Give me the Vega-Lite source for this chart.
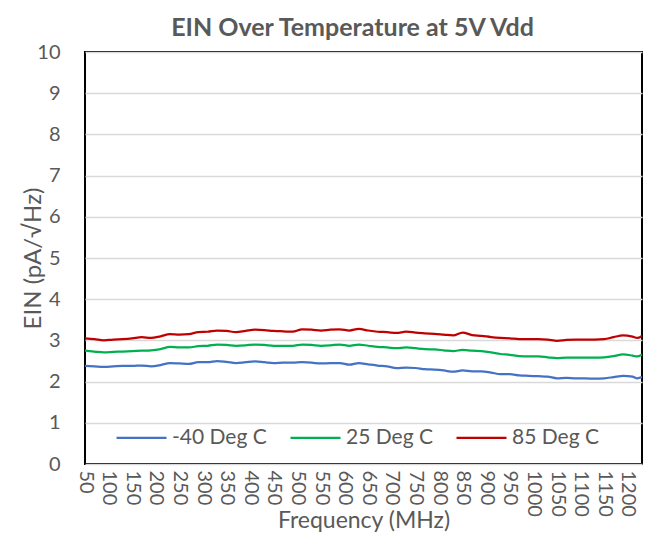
{
  "$schema": "https://vega.github.io/schema/vega-lite/v6.json",
  "width": 557,
  "height": 412,
  "autosize": {"type": "none"},
  "padding": {"left": 85, "top": 52, "right": 26, "bottom": 76},
  "background": "white",
  "title": {
    "text": "EIN Over Temperature at 5V Vdd",
    "font": "Lato",
    "fontSize": 25,
    "fontWeight": "bold",
    "color": "#595959",
    "anchor": "middle",
    "frame": "group",
    "dx": -11,
    "offset": 1
  },
  "data": {
    "values": [
      {"f": 50, "-40 Deg C": 2.38, "25 Deg C": 2.75, "85 Deg C": 3.05},
      {"f": 70, "-40 Deg C": 2.37, "25 Deg C": 2.73, "85 Deg C": 3.03},
      {"f": 90, "-40 Deg C": 2.36, "25 Deg C": 2.71, "85 Deg C": 3.00},
      {"f": 110, "-40 Deg C": 2.37, "25 Deg C": 2.72, "85 Deg C": 3.02},
      {"f": 130, "-40 Deg C": 2.38, "25 Deg C": 2.73, "85 Deg C": 3.03},
      {"f": 150, "-40 Deg C": 2.38, "25 Deg C": 2.74, "85 Deg C": 3.05},
      {"f": 170, "-40 Deg C": 2.39, "25 Deg C": 2.75, "85 Deg C": 3.08},
      {"f": 190, "-40 Deg C": 2.37, "25 Deg C": 2.76, "85 Deg C": 3.06},
      {"f": 210, "-40 Deg C": 2.40, "25 Deg C": 2.79, "85 Deg C": 3.10},
      {"f": 230, "-40 Deg C": 2.45, "25 Deg C": 2.84, "85 Deg C": 3.15},
      {"f": 250, "-40 Deg C": 2.44, "25 Deg C": 2.83, "85 Deg C": 3.14},
      {"f": 270, "-40 Deg C": 2.43, "25 Deg C": 2.83, "85 Deg C": 3.15},
      {"f": 290, "-40 Deg C": 2.47, "25 Deg C": 2.86, "85 Deg C": 3.20},
      {"f": 310, "-40 Deg C": 2.47, "25 Deg C": 2.87, "85 Deg C": 3.21},
      {"f": 330, "-40 Deg C": 2.50, "25 Deg C": 2.90, "85 Deg C": 3.24},
      {"f": 350, "-40 Deg C": 2.48, "25 Deg C": 2.89, "85 Deg C": 3.23},
      {"f": 370, "-40 Deg C": 2.45, "25 Deg C": 2.87, "85 Deg C": 3.20},
      {"f": 390, "-40 Deg C": 2.47, "25 Deg C": 2.88, "85 Deg C": 3.23},
      {"f": 410, "-40 Deg C": 2.49, "25 Deg C": 2.90, "85 Deg C": 3.26},
      {"f": 430, "-40 Deg C": 2.47, "25 Deg C": 2.89, "85 Deg C": 3.25},
      {"f": 450, "-40 Deg C": 2.45, "25 Deg C": 2.87, "85 Deg C": 3.23},
      {"f": 470, "-40 Deg C": 2.46, "25 Deg C": 2.87, "85 Deg C": 3.22},
      {"f": 490, "-40 Deg C": 2.46, "25 Deg C": 2.87, "85 Deg C": 3.21},
      {"f": 510, "-40 Deg C": 2.47, "25 Deg C": 2.90, "85 Deg C": 3.27},
      {"f": 530, "-40 Deg C": 2.46, "25 Deg C": 2.89, "85 Deg C": 3.26},
      {"f": 550, "-40 Deg C": 2.44, "25 Deg C": 2.87, "85 Deg C": 3.24},
      {"f": 570, "-40 Deg C": 2.45, "25 Deg C": 2.88, "85 Deg C": 3.26},
      {"f": 590, "-40 Deg C": 2.45, "25 Deg C": 2.90, "85 Deg C": 3.27},
      {"f": 610, "-40 Deg C": 2.41, "25 Deg C": 2.87, "85 Deg C": 3.24},
      {"f": 630, "-40 Deg C": 2.45, "25 Deg C": 2.90, "85 Deg C": 3.28},
      {"f": 650, "-40 Deg C": 2.42, "25 Deg C": 2.87, "85 Deg C": 3.24},
      {"f": 670, "-40 Deg C": 2.39, "25 Deg C": 2.84, "85 Deg C": 3.21},
      {"f": 690, "-40 Deg C": 2.37, "25 Deg C": 2.83, "85 Deg C": 3.20},
      {"f": 710, "-40 Deg C": 2.33, "25 Deg C": 2.81, "85 Deg C": 3.18},
      {"f": 730, "-40 Deg C": 2.34, "25 Deg C": 2.83, "85 Deg C": 3.21},
      {"f": 750, "-40 Deg C": 2.33, "25 Deg C": 2.81, "85 Deg C": 3.19},
      {"f": 770, "-40 Deg C": 2.30, "25 Deg C": 2.79, "85 Deg C": 3.17},
      {"f": 790, "-40 Deg C": 2.29, "25 Deg C": 2.78, "85 Deg C": 3.16},
      {"f": 810, "-40 Deg C": 2.27, "25 Deg C": 2.76, "85 Deg C": 3.14},
      {"f": 830, "-40 Deg C": 2.24, "25 Deg C": 2.74, "85 Deg C": 3.12},
      {"f": 850, "-40 Deg C": 2.27, "25 Deg C": 2.77, "85 Deg C": 3.19},
      {"f": 870, "-40 Deg C": 2.25, "25 Deg C": 2.75, "85 Deg C": 3.13},
      {"f": 890, "-40 Deg C": 2.25, "25 Deg C": 2.74, "85 Deg C": 3.11},
      {"f": 910, "-40 Deg C": 2.22, "25 Deg C": 2.71, "85 Deg C": 3.08},
      {"f": 930, "-40 Deg C": 2.18, "25 Deg C": 2.67, "85 Deg C": 3.06},
      {"f": 950, "-40 Deg C": 2.18, "25 Deg C": 2.65, "85 Deg C": 3.05},
      {"f": 970, "-40 Deg C": 2.15, "25 Deg C": 2.62, "85 Deg C": 3.03},
      {"f": 990, "-40 Deg C": 2.14, "25 Deg C": 2.61, "85 Deg C": 3.03},
      {"f": 1010, "-40 Deg C": 2.13, "25 Deg C": 2.61, "85 Deg C": 3.03},
      {"f": 1030, "-40 Deg C": 2.12, "25 Deg C": 2.59, "85 Deg C": 3.02},
      {"f": 1050, "-40 Deg C": 2.08, "25 Deg C": 2.57, "85 Deg C": 2.99},
      {"f": 1070, "-40 Deg C": 2.09, "25 Deg C": 2.58, "85 Deg C": 3.01},
      {"f": 1090, "-40 Deg C": 2.08, "25 Deg C": 2.58, "85 Deg C": 3.02},
      {"f": 1110, "-40 Deg C": 2.08, "25 Deg C": 2.58, "85 Deg C": 3.02},
      {"f": 1130, "-40 Deg C": 2.07, "25 Deg C": 2.58, "85 Deg C": 3.02},
      {"f": 1150, "-40 Deg C": 2.08, "25 Deg C": 2.59, "85 Deg C": 3.03},
      {"f": 1170, "-40 Deg C": 2.11, "25 Deg C": 2.62, "85 Deg C": 3.08},
      {"f": 1190, "-40 Deg C": 2.14, "25 Deg C": 2.66, "85 Deg C": 3.12},
      {"f": 1210, "-40 Deg C": 2.12, "25 Deg C": 2.63, "85 Deg C": 3.09},
      {"f": 1220, "-40 Deg C": 2.08, "25 Deg C": 2.61, "85 Deg C": 3.06},
      {"f": 1230, "-40 Deg C": 2.11, "25 Deg C": 2.66, "85 Deg C": 3.11}
    ]
  },
  "transform": [
    {"fold": ["-40 Deg C", "25 Deg C", "85 Deg C"], "as": ["series", "ein"]}
  ],
  "mark": {"type": "line", "strokeWidth": 2.25, "interpolate": "monotone", "clip": true},
  "encoding": {
    "x": {
      "field": "f",
      "type": "quantitative",
      "scale": {"domain": [50, 1230], "nice": false, "zero": false},
      "axis": {
        "title": "Frequency (MHz)",
        "format": "d",
        "values": [50, 100, 150, 200, 250, 300, 350, 400, 450, 500, 550, 600, 650, 700, 750, 800, 850, 900, 950, 1000, 1050, 1100, 1150, 1200],
        "labelAngle": 90,
        "labelAlign": "left",
        "labelBaseline": "middle",
        "labelFlush": false,
        "labelOverlap": false,
        "labelPadding": 6,
        "labelFontSize": 20,
        "ticks": false,
        "domain": false,
        "grid": false,
        "titleFontSize": 23,
        "titlePadding": -7
      }
    },
    "y": {
      "field": "ein",
      "type": "quantitative",
      "scale": {"domain": [0, 10], "nice": false},
      "axis": {
        "title": "EIN (pA/√Hz)",
        "values": [0, 1, 2, 3, 4, 5, 6, 7, 8, 9, 10],
        "ticks": false,
        "domain": false,
        "labelPadding": 25,
        "labelFontSize": 20,
        "titleFontSize": 24,
        "titlePadding": -9,
        "gridColor": "#D9D9D9",
        "gridWidth": 1.3
      }
    },
    "color": {
      "field": "series",
      "type": "nominal",
      "scale": {
        "domain": ["-40 Deg C", "25 Deg C", "85 Deg C"],
        "range": ["#4472C4", "#00B050", "#C00000"]
      },
      "legend": {
        "title": null,
        "orient": "none",
        "direction": "horizontal",
        "legendX": 30,
        "legendY": 359,
        "symbolType": "stroke",
        "symbolSize": 2500,
        "symbolStrokeWidth": 2.25,
        "labelOffset": 4,
        "columnPadding": 19,
        "labelFont": "Lato",
        "labelFontSize": 21,
        "labelColor": "#595959",
        "labelLimit": 200
      }
    }
  },
  "config": {
    "view": {"stroke": "#000000", "strokeWidth": 2},
    "axis": {
      "labelFont": "Lato",
      "labelColor": "#595959",
      "titleFont": "Lato",
      "titleFontWeight": "normal",
      "titleColor": "#595959"
    }
  }
}
